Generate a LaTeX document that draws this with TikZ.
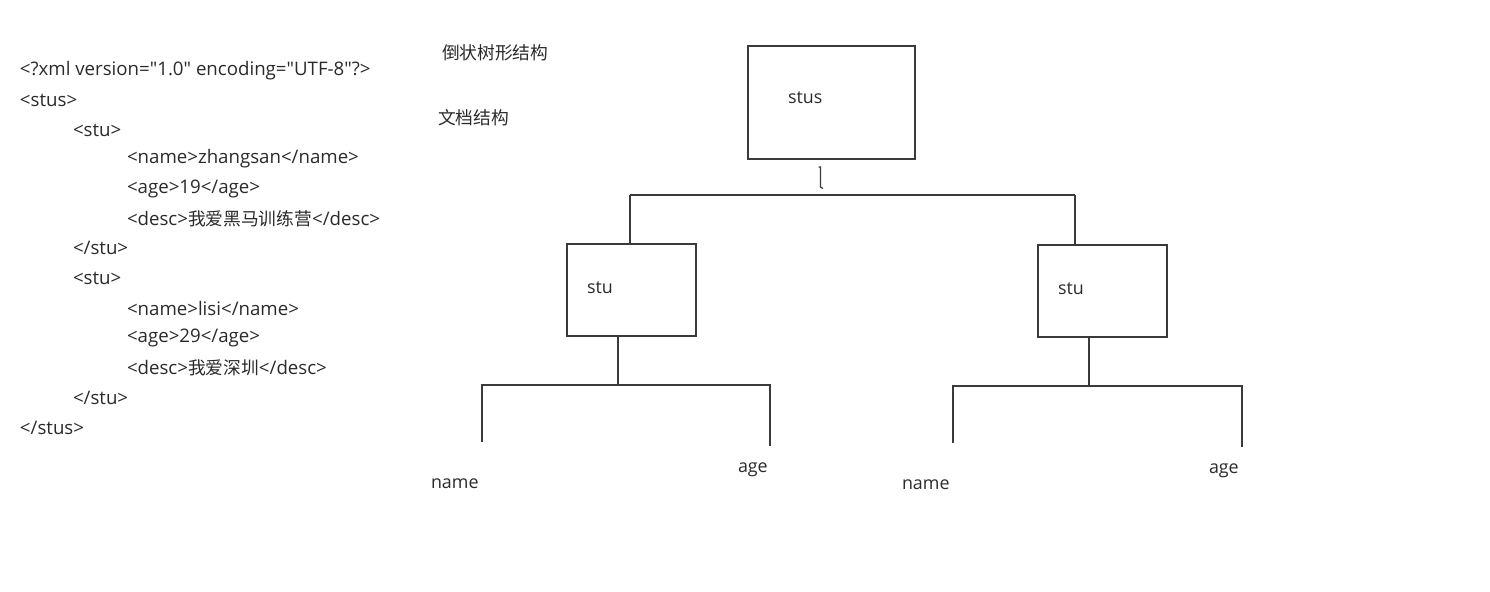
\documentclass[tikz,border=0pt]{standalone}
\usepackage{fontspec}
\newfontfamily\lat{Open Sans}
\newfontfamily\cjk{Noto Sans CJK SC}
\newcommand{\zh}[1]{{\fontsize{13.3}{15}\cjk #1}}
\definecolor{txt}{HTML}{2A2A2A}
\definecolor{ln}{HTML}{3A3A3A}
\begin{document}
\begin{tikzpicture}[x=0.75pt,y=-0.75pt,
  every node/.style={inner sep=0pt, outer sep=0pt, text=txt},
  tx/.style={anchor=west, font=\fontsize{13.4}{15}\lat},
  xml/.style={anchor=west, font=\fontsize{14}{15}\lat},
  box/.style={draw=ln, line width=1.1pt, anchor=north west},
  conn/.style={draw=ln, line width=1.1pt}]
\useasboundingbox (0,0) rectangle (1490,592);
% XML text
\node[xml] (x1) at (20,71) {<?xml version="1.0" encoding="UTF-8"?>};
\node[xml] (x2) at (20,100) {<stus>};
\node[xml] (x3) at (73,130) {<stu>};
\node[xml] (x4) at (127,159) {<name>zhangsan</name>};
\node[xml] (x5) at (127,189) {<age>19</age>};
\node[xml] (x6) at (127,219) {<desc>\zh{我爱黑马训练营}</desc>};
\node[xml] (x7) at (73,248) {</stu>};
\node[xml] (x8) at (73,278) {<stu>};
\node[xml] (x9) at (127,308) {<name>lisi</name>};
\node[xml] (x10) at (127,338) {<age>29</age>};
\node[xml] (x11) at (127,368) {<desc>\zh{我爱深圳}</desc>};
\node[xml] (x12) at (73,398) {</stu>};
\node[xml] (x13) at (20,428) {</stus>};
% titles
\node[tx] (t1) at (442,53) {\zh{倒状树形结构}};
\node[tx] (t2) at (438,118) {\zh{文档结构}};
% boxes
\node[box, minimum width=167*0.75pt, minimum height=113*0.75pt] (root) at (748,46) {};
\node[tx] (rootlbl) at (788,98) {stus};
\node[box, minimum width=129*0.75pt, minimum height=92*0.75pt] (stuL) at (567,244) {};
\node[tx] (stuLlbl) at (587,288) {stu};
\node[box, minimum width=129*0.75pt, minimum height=92*0.75pt] (stuR) at (1038,245) {};
\node[tx] (stuRlbl) at (1058,289) {stu};
% leaf labels
\node[tx] (nameL) at (431,484) {name};
\node[tx] (ageL) at (738,470) {age};
\node[tx] (nameR) at (902,485) {name};
\node[tx] (ageR) at (1209,471) {age};
% small mark under root
\draw[conn, line width=0.9pt] (818.5,167) -- (820.5,167) -- (820.5,187) -- (823,188.5);
% top-level connectors
\coordinate (hl) at (630,195);
\coordinate (hr) at (1075,195);
\draw[conn] (hl) -- (hr);
\draw[conn] (hl) -- (stuL.north -| hl);
\draw[conn] (hr) -- (stuR.north -| hr);
% left subtree
\coordinate (sL) at (618,385);
\coordinate (lL) at (482,385);
\coordinate (rL) at (770,385);
\coordinate (lLe) at (482,442);
\coordinate (rLe) at (770,446);
\draw[conn] (stuL.south -| sL) -- (sL);
\draw[conn] (lLe) -- (lL) -- (rL) -- (rLe);
% right subtree
\coordinate (sR) at (1089,386);
\coordinate (lR) at (953,386);
\coordinate (rR) at (1242,386);
\coordinate (lRe) at (953,443);
\coordinate (rRe) at (1242,447);
\draw[conn] (stuR.south -| sR) -- (sR);
\draw[conn] (lRe) -- (lR) -- (rR) -- (rRe);
\end{tikzpicture}
\end{document}
